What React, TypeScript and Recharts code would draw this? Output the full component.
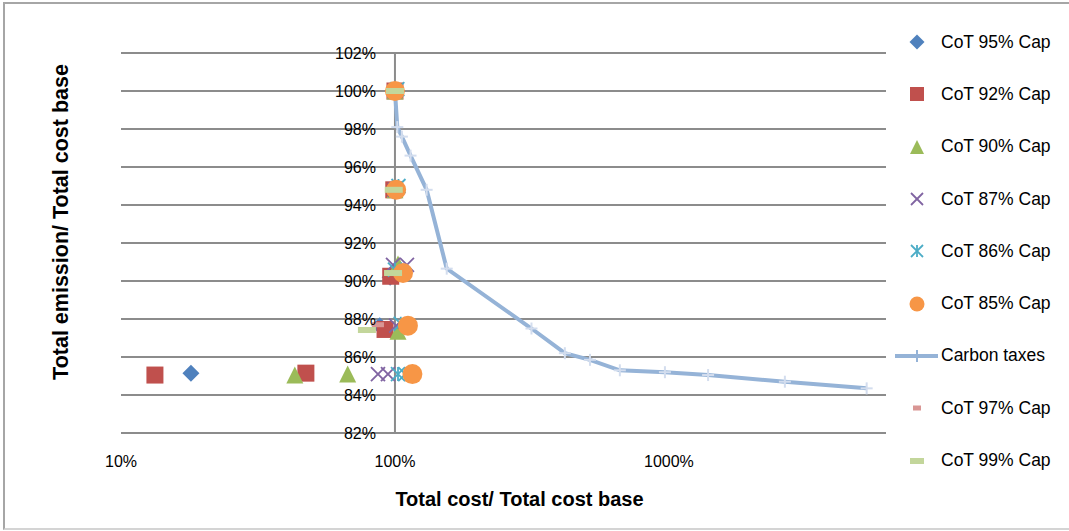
import { ScatterChart, Scatter, XAxis, YAxis, CartesianGrid, ReferenceLine, Legend } from "recharts";

// x = total cost / total cost base (1 = 100%), y = total emission / base in %
const xTicks = [0.1, 1, 10];
const yTicks = [82, 84, 86, 88, 90, 92, 94, 96, 98, 100, 102];

const cot95 = [
    { x: 1.0, y: 100.0 }, { x: 1.0, y: 94.8 }, { x: 0.96, y: 90.2 },
    { x: 0.88, y: 87.65 }, { x: 0.18, y: 85.15 },
];
const cot92 = [
    { x: 1.0, y: 100.0 }, { x: 0.99, y: 94.8 }, { x: 0.965, y: 90.25 },
    { x: 0.92, y: 87.45 }, { x: 0.133, y: 85.05 }, { x: 0.473, y: 85.15 },
];
const cot90 = [
    { x: 1.0, y: 100.0 }, { x: 1.0, y: 94.8 }, { x: 1.026, y: 90.9 },
    { x: 1.026, y: 87.35 }, { x: 0.431, y: 85.05 }, { x: 0.672, y: 85.1 },
];
const cot87 = [
    { x: 1.0, y: 100.0 }, { x: 1.0, y: 94.8 }, { x: 0.984, y: 90.85 }, { x: 1.106, y: 90.85 },
    { x: 1.01, y: 87.65 }, { x: 0.867, y: 85.1 }, { x: 0.943, y: 85.1 },
];
const cot86 = [
    { x: 1.02, y: 100.1 }, { x: 1.03, y: 95.0 }, { x: 1.0, y: 90.6 },
    { x: 1.05, y: 87.75 }, { x: 1.026, y: 85.1 }, { x: 1.09, y: 85.1 },
];
const cot85 = [
    { x: 1.0, y: 100.0 }, { x: 1.01, y: 94.8 }, { x: 1.07, y: 90.42 },
    { x: 1.115, y: 87.65 }, { x: 1.158, y: 85.1 },
];
const carbonTaxes = [
    { x: 1.0, y: 100.0 }, { x: 1.02, y: 98.1 }, { x: 1.06, y: 97.6 }, { x: 1.14, y: 96.6 },
    { x: 1.305, y: 94.8 }, { x: 1.545, y: 90.65 }, { x: 3.15, y: 87.5 }, { x: 4.17, y: 86.2 },
    { x: 5.15, y: 85.85 }, { x: 6.62, y: 85.3 }, { x: 9.67, y: 85.2 }, { x: 13.9, y: 85.05 },
    { x: 26.5, y: 84.7 }, { x: 52.7, y: 84.35 },
];
const cot97 = [
    { x: 1.0, y: 100.0 }, { x: 1.0, y: 94.8 }, { x: 0.98, y: 90.4 }, { x: 0.867, y: 87.7 },
];
const cot99 = [
    { x: 1.0, y: 100.0 }, { x: 0.99, y: 94.8 }, { x: 0.984, y: 90.42 }, { x: 0.79, y: 87.42 },
];

const FONT = "'Liberation Sans', Arial, sans-serif";
const W = 1069;
const H = 531;
const margin = { top: 53, right: 183, bottom: 0, left: 0 };
const yAxisWidth = 121;
const xDomain: [number, number] = [0.1, 62];
// y axis crosses at x = 100%
const plotW = W - margin.left - margin.right - yAxisWidth;
const crossDx = plotW * Math.log10(1 / xDomain[0]) / Math.log10(xDomain[1] / xDomain[0]);

type Kind = 'diamond' | 'square' | 'triangle' | 'x' | 'star' | 'circle' | 'plus' | 'dashS' | 'dashL';

function Marker({ kind, color, cx, cy, s }: { kind: Kind; color: string; cx: number; cy: number; s: number }) {
    const h = s / 2;
    switch (kind) {
        case 'diamond':
            return <polygon points={`${cx},${cy - h} ${cx + h},${cy} ${cx},${cy + h} ${cx - h},${cy}`} fill={color} />;
        case 'square':
            return <rect x={cx - h} y={cy - h} width={s} height={s} fill={color} />;
        case 'triangle':
            return <polygon points={`${cx},${cy - h} ${cx + h},${cy + h} ${cx - h},${cy + h}`} fill={color} />;
        case 'x':
            return (
                <g stroke={color} strokeWidth={1.8}>
                    <line x1={cx - h} y1={cy - h} x2={cx + h} y2={cy + h} />
                    <line x1={cx - h} y1={cy + h} x2={cx + h} y2={cy - h} />
                </g>
            );
        case 'star':
            return (
                <g stroke={color} strokeWidth={1.8}>
                    <line x1={cx - h} y1={cy - h} x2={cx + h} y2={cy + h} />
                    <line x1={cx - h} y1={cy + h} x2={cx + h} y2={cy - h} />
                    <line x1={cx} y1={cy - h} x2={cx} y2={cy + h} />
                </g>
            );
        case 'circle':
            return <circle cx={cx} cy={cy} r={h} fill={color} />;
        case 'plus':
            return (
                <g stroke={color} strokeWidth={2}>
                    <line x1={cx - h} y1={cy} x2={cx + h} y2={cy} />
                    <line x1={cx} y1={cy - h} x2={cx} y2={cy + h} />
                </g>
            );
        case 'dashS':
            return <rect x={cx - h} y={cy - 2.5} width={s} height={5} fill={color} />;
        case 'dashL':
            return <rect x={cx - h} y={cy - 3} width={s} height={6} fill={color} />;
    }
    return null;
}

const series: Array<{ name: string; data: Array<{ x: number; y: number }>; kind: Kind; color: string; size: number; line?: boolean }> = [
    { name: 'CoT 95% Cap', data: cot95, kind: 'diamond', color: '#4F81BD', size: 17 },
    { name: 'CoT 92% Cap', data: cot92, kind: 'square', color: '#C0504D', size: 17 },
    { name: 'CoT 90% Cap', data: cot90, kind: 'triangle', color: '#9BBB59', size: 17 },
    { name: 'CoT 87% Cap', data: cot87, kind: 'x', color: '#8064A2', size: 14 },
    { name: 'CoT 86% Cap', data: cot86, kind: 'star', color: '#4BACC6', size: 14 },
    { name: 'CoT 85% Cap', data: cot85, kind: 'circle', color: '#F79646', size: 20 },
    { name: 'Carbon taxes', data: carbonTaxes, kind: 'plus', color: '#D3DDEE', size: 12, line: true },
    { name: 'CoT 97% Cap', data: cot97, kind: 'dashS', color: '#D99694', size: 12 },
    { name: 'CoT 99% Cap', data: cot99, kind: 'dashL', color: '#C3D69B', size: 18 },
];

const legendIcon: Record<string, { kind: Kind; color: string; size: number }> = {
    'CoT 95% Cap': { kind: 'diamond', color: '#4F81BD', size: 15 },
    'CoT 92% Cap': { kind: 'square', color: '#C0504D', size: 14 },
    'CoT 90% Cap': { kind: 'triangle', color: '#9BBB59', size: 14 },
    'CoT 87% Cap': { kind: 'x', color: '#8064A2', size: 12 },
    'CoT 86% Cap': { kind: 'star', color: '#4BACC6', size: 12 },
    'CoT 85% Cap': { kind: 'circle', color: '#F79646', size: 15 },
    'Carbon taxes': { kind: 'plus', color: '#95B3D7', size: 12 },
    'CoT 97% Cap': { kind: 'dashS', color: '#D99694', size: 8 },
    'CoT 99% Cap': { kind: 'dashL', color: '#C3D69B', size: 14 },
};

function LegendBox() {
    return (
        <div style={{ fontFamily: FONT, fontSize: 17.5, color: '#000', whiteSpace: 'nowrap' }}>
            {series.map((s) => {
                const ic = legendIcon[s.name];
                return (
                    <div key={s.name} style={{ display: 'flex', alignItems: 'center', height: 52.3 }}>
                        <svg width={47} height={20} style={{ flex: 'none' }}>
                            {s.line && <line x1={1} y1={10} x2={44} y2={10} stroke="#95B3D7" strokeWidth={4} />}
                            <Marker kind={ic.kind} color={ic.color} cx={23} cy={10} s={ic.size} />
                        </svg>
                        <span>{s.name}</span>
                    </div>
                );
            })}
        </div>
    );
}

function YTick({ x, y, payload }: any) {
    return (
        <text x={x + crossDx - 19} y={y} dy="0.35em" textAnchor="end" fontSize={16} fontFamily={FONT} fill="#000">
            {payload.value}%
        </text>
    );
}

function YTitle({ viewBox }: any) {
    const cx = viewBox.x + viewBox.width / 2;
    const cy = 222;
    return (
        <text x={cx} y={cy} dy="0.35em" textAnchor="middle" transform={`rotate(-90, ${cx}, ${cy})`}
              fontSize={21.5} fontWeight="bold" fontFamily={FONT} fill="#000">
            Total emission/ Total cost base
        </text>
    );
}

export default function App() {
    return (
        <div style={{ position: 'relative', width: W, height: H, background: '#fff' }}>
            <style>{'body{margin:0}'}</style>
            <div style={{ position: 'absolute', left: 3, top: 2, right: -4, bottom: 1, borderTop: '2px solid #a6a6a6', borderLeft: '2px solid #a6a6a6', borderBottom: '2px solid #d4d4d4' }} />
            <ScatterChart width={W} height={H} margin={margin} style={{ position: 'absolute', left: 0, top: 0 }}>
                <CartesianGrid vertical={false} stroke="#8c8c8c" strokeWidth={2} />
                <XAxis
                    type="number"
                    dataKey="x"
                    scale="log"
                    domain={xDomain}
                    allowDataOverflow
                    ticks={xTicks}
                    tickFormatter={(v: number) => `${Math.round(v * 100)}%`}
                    axisLine={false}
                    tickLine={false}
                    tickSize={0}
                    tickMargin={23}
                    height={98}
                    tick={{ fontSize: 16, fontFamily: FONT, fill: '#000' }}
                    label={{ value: 'Total cost/ Total cost base', position: 'insideBottom', offset: 25, dx: 16, fontSize: 20, fontWeight: 'bold', fontFamily: FONT, fill: '#000' }}
                />
                <YAxis
                    type="number"
                    dataKey="y"
                    domain={[82, 102]}
                    ticks={yTicks}
                    width={yAxisWidth}
                    axisLine={false}
                    tickLine={false}
                    tickSize={0}
                    tickMargin={0}
                    tick={(p: any) => <YTick {...p} />}
                    label={{ content: (p: any) => <YTitle {...p} /> }}
                />
                <ReferenceLine x={1} stroke="#8c8c8c" strokeWidth={2} />
                <Legend
                    layout="vertical"
                    align="center"
                    verticalAlign="middle"
                    content={() => <LegendBox />}
                    wrapperStyle={{ left: 894, top: 16, width: 175 }}
                />
                {series.filter((s) => s.line).map((s) => (
                    <Scatter
                        key={s.name}
                        name={s.name}
                        data={s.data}
                        line={{ stroke: '#95B3D7', strokeWidth: 4 }}
                        lineJointType="linear"
                        shape={(p: any) => <Marker kind={s.kind} color={s.color} cx={p.cx} cy={p.cy} s={s.size} />}
                        isAnimationActive={false}
                    />
                ))}
                {series.filter((s) => !s.line).map((s) => (
                    <Scatter
                        key={s.name}
                        name={s.name}
                        data={s.data}
                        shape={(p: any) => <Marker kind={s.kind} color={s.color} cx={p.cx} cy={p.cy} s={s.size} />}
                        isAnimationActive={false}
                    />
                ))}
            </ScatterChart>
        </div>
    );
}
